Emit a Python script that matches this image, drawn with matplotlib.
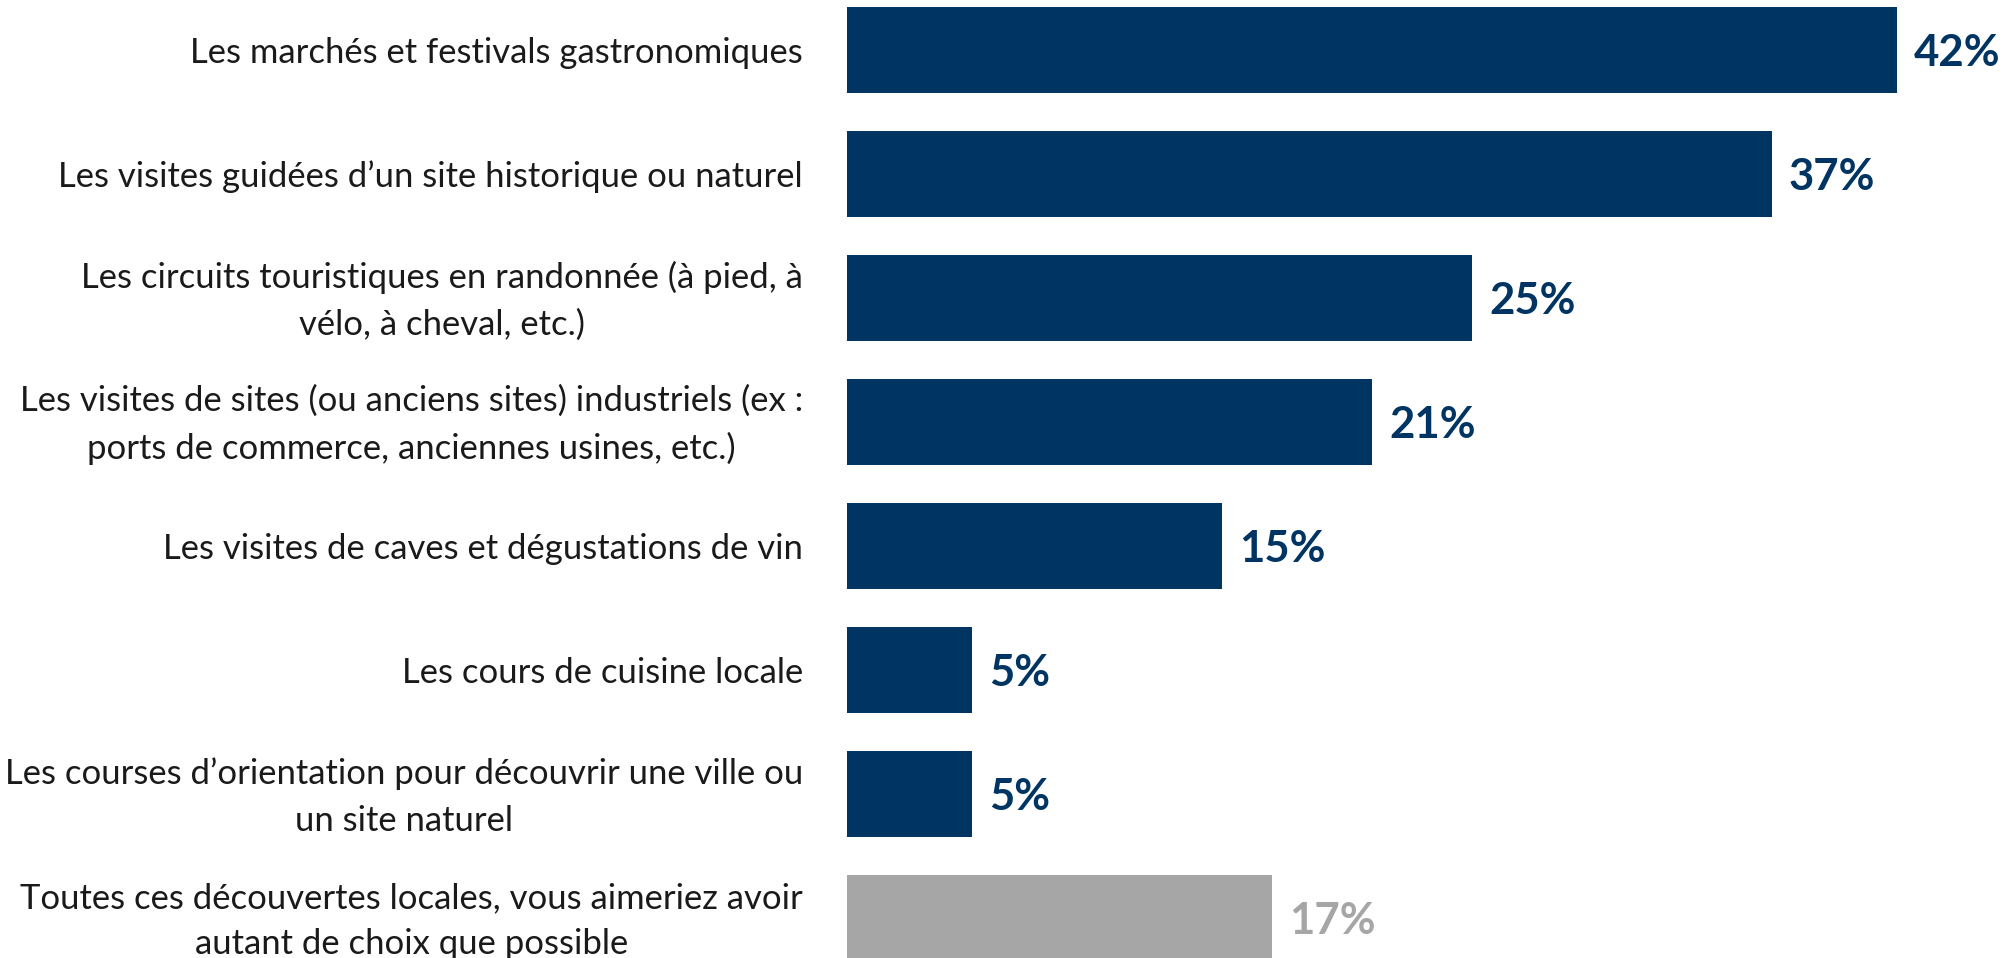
import matplotlib.pyplot as plt

# Data
categories = [
    "Les marchés et festivals gastronomiques",
    "Les visites guidées d\u2019un site historique ou naturel",
    "Les circuits touristiques en randonnée (à pied, à\nvélo, à cheval, etc.)",
    "Les visites de sites (ou anciens sites) industriels (ex :\nports de commerce, anciennes usines, etc.)",
    "Les visites de caves et dégustations de vin",
    "Les cours de cuisine locale",
    "Les courses d\u2019orientation pour découvrir une ville ou\nun site naturel",
    "Toutes ces découvertes locales, vous aimeriez avoir\nautant de choix que possible",
]
values = [42, 37, 25, 21, 15, 5, 5, 17]
value_labels = ["42%", "37%", "25%", "21%", "15%", "5%", "5%", "17%"]

# Style
NAVY = "#003462"
GREY = "#A6A6A6"
bar_colors = [NAVY] * 7 + [GREY]
LABEL_FONT = "Lato"


def main():
    W, H = 2006, 958
    fig = plt.figure(figsize=(W / 100, H / 100), dpi=100)
    x0 = 847
    px_per_unit = 25.0
    ax = fig.add_axes([x0 / W, 0, (W - x0) / W, 1])
    ax.set_xlim(0, (W - x0) / px_per_unit)
    # bar centers at 50 px + 124 px * i from top
    ax.set_ylim((H - 50) / 124, -50 / 124)
    ax.axis("off")

    pos = list(range(len(values)))
    ax.barh(pos, values, height=86 / 124, color=bar_colors, linewidth=0)

    dy = 3 / 124  # small downward nudge of the text
    for i, (v, lab, c) in enumerate(zip(values, value_labels, bar_colors)):
        ax.text(v + 17 / px_per_unit, i + dy, lab, ha="left", va="center",
                fontsize=31.5, fontweight="bold", color=c, family=LABEL_FONT)

    for i, cat in enumerate(categories):
        ax.text(-44 / px_per_unit, i + dy, cat, ha="right", va="center",
                multialignment="center", fontsize=24.9, color="#1a1a1a",
                family=LABEL_FONT, linespacing=1.55, clip_on=False)

    fig.savefig("out.png", dpi=100)
    plt.close(fig)


if __name__ == "__main__":
    main()
